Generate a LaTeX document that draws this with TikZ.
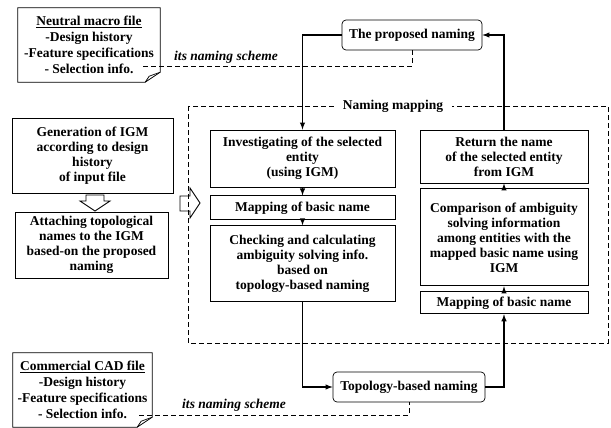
\documentclass[tikz,border=0pt]{standalone}
\usepackage{fontspec}
\setmainfont{Liberation Serif}
\usetikzlibrary{positioning}

\begin{document}
\begin{tikzpicture}[x=1pt, y=-1pt, every node/.style={font=\fontsize{13.5}{15}\selectfont\bfseries}]
\useasboundingbox (0,0) rectangle (611,428);
\tikzstyle{blk} = [rectangle, align=center, draw=black, line width=.9pt, inner sep=1pt]
\tikzstyle{nm} = [rectangle, rounded corners=4pt, align=center, draw=black, line width=.7pt, minimum height=30pt]
\tikzstyle{file} = [rectangle, align=center, inner sep=0pt, font=\fontsize{13.5}{16.2}\selectfont\bfseries]
\tikzstyle{conn} = [-latex, line width=1.4pt]
\tikzstyle{dashln} = [dash pattern=on 5pt off 3pt, line width=.8pt]

% source files
\node (neutral) [file, minimum width=142pt, minimum height=74pt] at (89,45) {\underline{Neutral macro file}\\-Design history\\-Feature specifications\\- Selection info.};
\node (commercial) [file, minimum width=139pt, minimum height=74pt] at (82.5,390) {\underline{Commercial CAD file}\\-Design history\\-Feature specifications\\- Selection info.};
\foreach \f in {neutral, commercial} {
  \draw[line width=.7pt] (\f.north west) -- (\f.north east) -- ([yshift=10pt]\f.south east) -- ([xshift=-15pt]\f.south east) -- (\f.south west) -- cycle;
  \draw[line width=.7pt] ([xshift=-15pt]\f.south east) -- ([xshift=-11pt, yshift=6pt]\f.south east) -- ([yshift=10pt]\f.south east);
}

% left column
\node (gen) [blk, minimum width=161pt, minimum height=75pt] at (92.5,155.5) {Generation of IGM\\according to design\\history\\of input file};
\node (attach) [blk, minimum width=153pt, minimum height=66pt] at (91.5,245) {Attaching topological\\names to the IGM\\based-on the proposed\\naming};
\draw[line width=.9pt, fill=white] (86,195) -- (104,195) -- (104,201) -- (110,201) -- (95,211) -- (80,201) -- (86,201) -- cycle;
\draw[line width=.9pt, fill=white] (180,196) -- (190,196) -- (190,188) -- (200,203) -- (190,218) -- (190,211) -- (180,211) -- cycle;

% naming mapping
\draw[dashln] (188,106) rectangle (608,343);
\node (mapping) [fill=white, inner xsep=9pt] at (393,106) {Naming mapping};

\node (invest) [blk, minimum width=185pt, minimum height=57pt] at (302.5,158.5) {Investigating of the selected\\entity\\(using IGM)};
\node (mapL) [blk, minimum width=185pt, minimum height=24pt, below=8pt of invest] {Mapping of basic name};
\node (check) [blk, minimum width=185pt, minimum height=76pt, below=5pt of mapL] {Checking and calculating\\ambiguity solving info.\\based on\\topology-based naming};

\node (ret) [blk, minimum width=168pt, minimum height=53pt] at (504,156.5) {Return the name\\of the selected entity\\from IGM};
\node (comp) [blk, minimum width=168pt, minimum height=97pt, below=5pt of ret] {Comparison of ambiguity\\solving information\\among entities with the\\mapped basic name using\\IGM};
\node (mapR) [blk, minimum width=168pt, minimum height=22pt, below=5pt of comp] {Mapping of basic name};

% naming schemes
\node (prop) [nm, minimum width=140pt] at (412,35) {The proposed naming};
\node (topo) [nm, minimum width=152pt] at (409,387) {Topology-based naming};

\node (scheme1) at (226,57) {\itshape its naming scheme};
\node (scheme2) at (234,405) {\itshape its naming scheme};
\coordinate (nsel) at (143,66);
\coordinate (csel) at (139,415);
\draw[dashln] (nsel) -| (prop.south);
\draw[dashln] (csel) -| (topo.south);

\draw[conn] (prop.west) -| (invest.north);
\draw[conn] (ret.north) |- (prop.east);
\draw[conn] (invest) -- (mapL);
\draw[conn] (mapL) -- (check);
\draw[conn] (mapR) -- (comp);
\draw[conn] (comp) -- (ret);
\draw[conn] (check.south) |- (topo.west);
\draw[conn] (topo.east) -| (mapR.south);

\end{tikzpicture}
\end{document}
